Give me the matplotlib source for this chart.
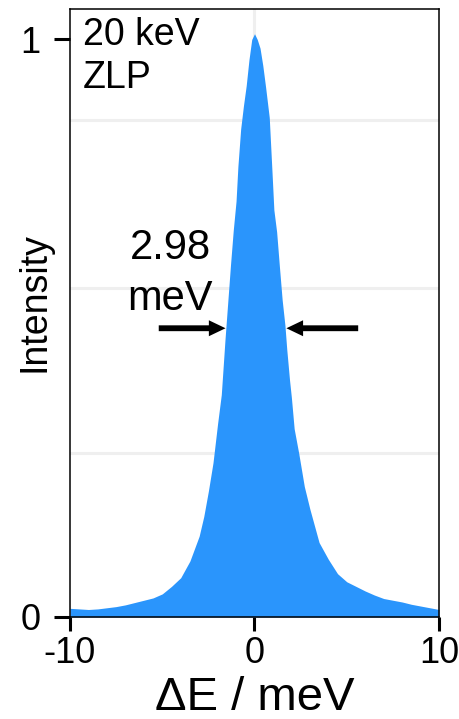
import matplotlib
matplotlib.use("Agg")
import matplotlib.pyplot as plt

# ---- data ----
energy_mev = [-10.0, -9.5, -9.0, -8.5, -8.0, -7.5, -7.0, -6.5, -6.0, -5.5,
              -5.0, -4.5, -4.0, -3.5, -3.0, -2.75, -2.5, -2.25, -2.0, -1.8,
              -1.6, -1.45, -1.3, -1.15, -1.0, -0.9, -0.75, -0.6, -0.45, -0.3,
              -0.15, 0.0, 0.15, 0.3, 0.45, 0.6, 0.8, 0.95, 1.05, 1.2,
              1.35, 1.5, 1.65, 1.75, 1.9, 2.0, 2.15, 2.4, 2.7, 3.0,
              3.5, 4.0, 4.5, 5.0, 5.5, 6.0, 6.5, 7.0, 7.5, 8.0,
              8.5, 9.0, 9.5, 10.0]
intensity = [0.015, 0.014, 0.013, 0.014, 0.016, 0.018, 0.021, 0.025, 0.029, 0.033,
             0.040, 0.053, 0.068, 0.097, 0.140, 0.174, 0.218, 0.267, 0.335, 0.385,
             0.480, 0.545, 0.610, 0.670, 0.720, 0.780, 0.845, 0.885, 0.920, 0.965,
             1.000, 1.010, 1.000, 0.985, 0.955, 0.918, 0.865, 0.770, 0.705, 0.667,
             0.607, 0.549, 0.505, 0.463, 0.410, 0.380, 0.326, 0.283, 0.226, 0.187,
             0.129, 0.100, 0.075, 0.061, 0.053, 0.045, 0.038, 0.032, 0.029, 0.026,
             0.022, 0.019, 0.016, 0.013]
x_ticks = [-10, 0, 10]
x_tick_labels = ["-10", "0", "10"]
y_ticks = [0, 1]
y_tick_labels = ["0", "1"]
grid_y = [0.284, 0.570, 0.861]
grid_x = [0]
fwhm_lines = ["2.98", "meV"]
fwhm_left = (-1.57, 0.5)
fwhm_right = (1.73, 0.5)
corner_lines = ["20 keV", "ZLP"]

plt.rcParams['font.family'] = ['Liberation Sans', 'DejaVu Sans']

fig = plt.figure(figsize=(4.60, 7.19), dpi=100)
ax = fig.add_axes([70/460, 1 - 617/719, (439 - 70)/460, (617 - 9)/719])

fill_color = '#2A95FC'
ax.fill_between(energy_mev, 0, intensity, color=fill_color, lw=0, zorder=2)

ax.set_xlim(-10, 10)
ax.set_ylim(0, 1.0528)

# grid lines (light grey, under the fill)
for gy in grid_y:
    ax.axhline(gy, color='#EFEFEF', lw=2.2, zorder=1)
for gx in grid_x:
    ax.axvline(gx, color='#EFEFEF', lw=2.2, zorder=1)

ax.set_xticks(x_ticks)
ax.set_xticklabels(x_tick_labels)
ax.set_yticks(y_ticks)
ax.set_yticklabels(y_tick_labels)
ax.tick_params(axis='x', direction='out', length=10, width=2.2, pad=4,
               labelsize=26, color='black')
ax.tick_params(axis='y', direction='out', length=11.5, width=2.2, pad=10,
               labelsize=26, color='black')

for sp in ax.spines.values():
    sp.set_linewidth(1.1)
    sp.set_color('black')
    sp.set_zorder(3)

ax.set_xlabel('ΔE / meV', fontsize=34)
ax.xaxis.label.set_va('baseline')
ax.xaxis.set_label_coords(0.5, (617 - 710) / 608)

ax.set_ylabel('Intensity', fontsize=27)
ax.yaxis.label.set_va('center')
ax.yaxis.set_label_coords((34 - 70) / 369, (617 - 302) / 608)

ax.text(-9.30, 0.990, corner_lines[0], fontsize=27, ha='left', va='baseline')
ax.text(-9.30, 0.916, corner_lines[1], fontsize=27, ha='left', va='baseline')
ax.text(-4.57, 0.620, fwhm_lines[0], fontsize=30, ha='center', va='baseline')
ax.text(-4.57, 0.532, fwhm_lines[1], fontsize=30, ha='center', va='baseline')

arrow_style = 'simple,head_length=1.2,head_width=1.15,tail_width=0.42'
ax.annotate('', xy=fwhm_left, xytext=(-5.19, 0.5),
            arrowprops=dict(arrowstyle=arrow_style, color='black', lw=0,
                            mutation_scale=10, shrinkA=0, shrinkB=0), zorder=4)
ax.annotate('', xy=fwhm_right, xytext=(5.62, 0.5),
            arrowprops=dict(arrowstyle=arrow_style, color='black', lw=0,
                            mutation_scale=10, shrinkA=0, shrinkB=0), zorder=4)

fig.savefig('out.png', dpi=100)
